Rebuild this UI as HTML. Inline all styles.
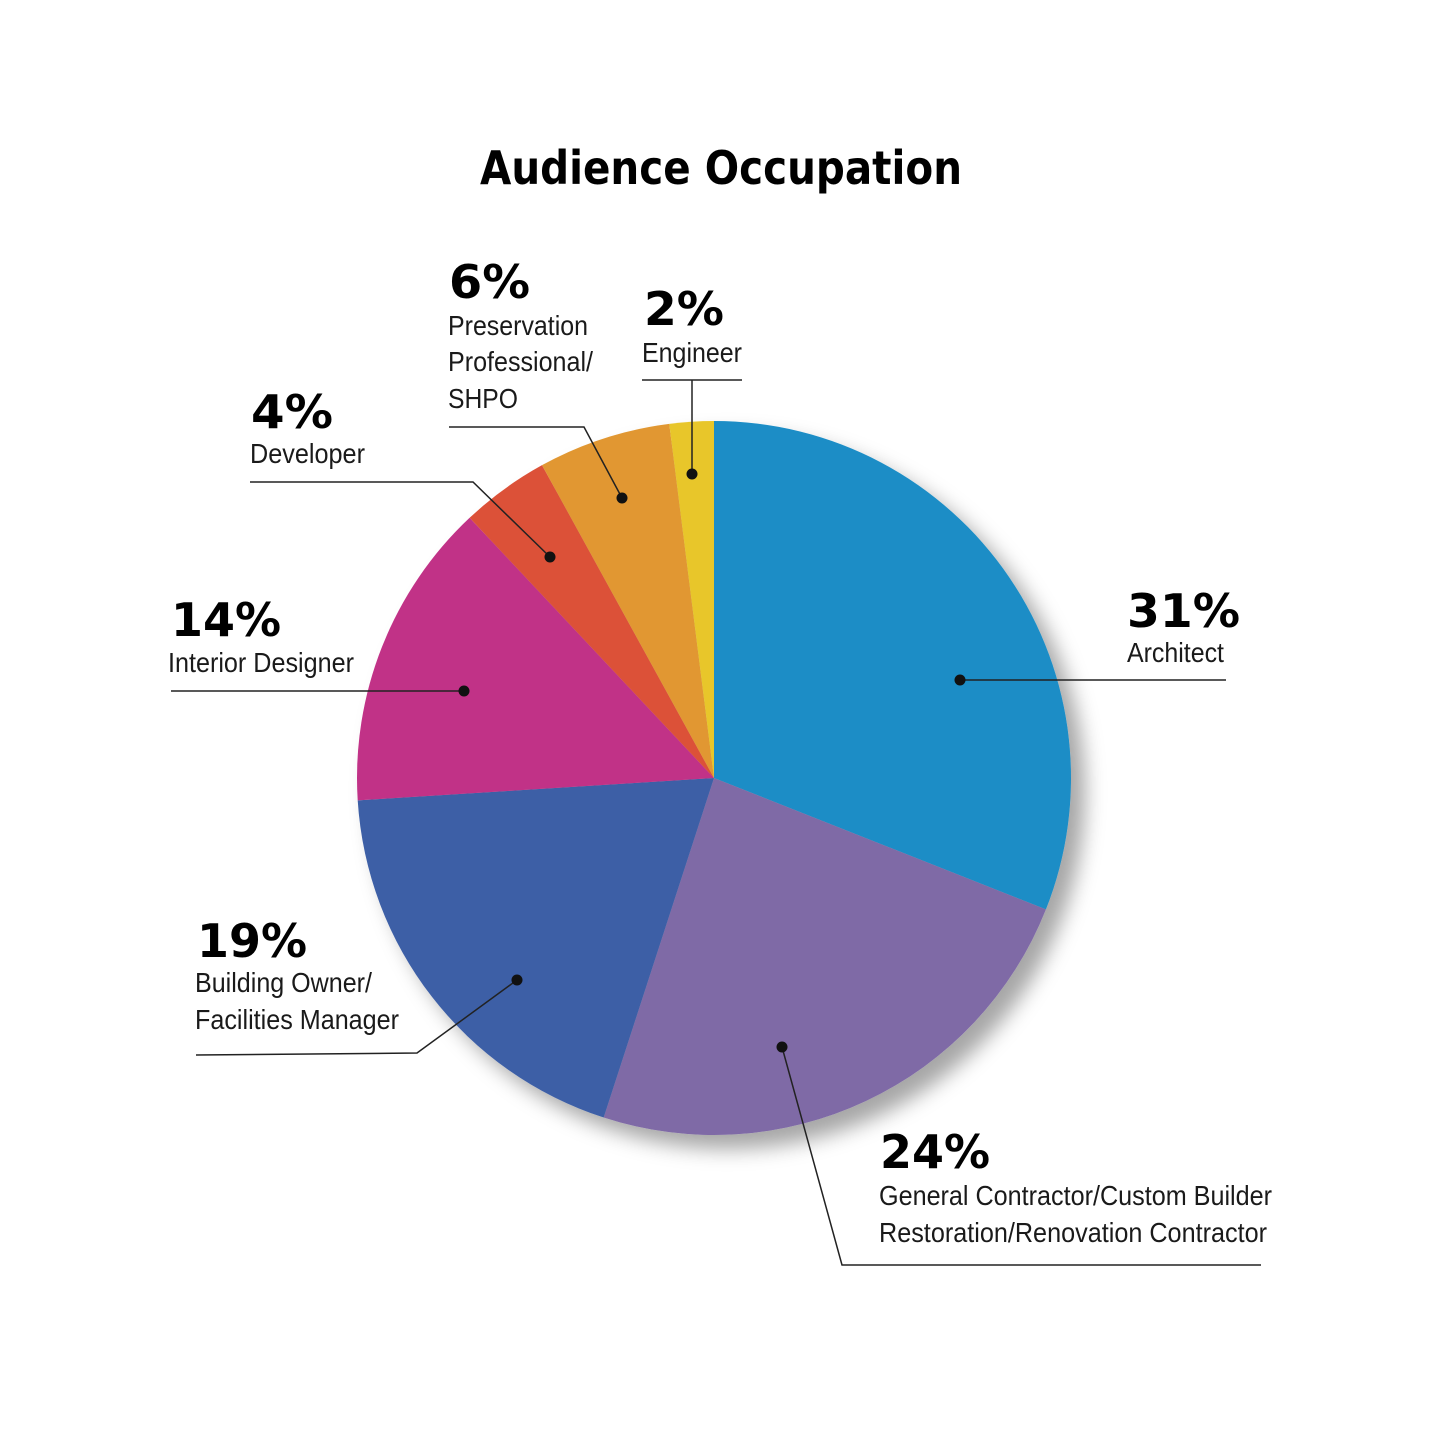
<!DOCTYPE html>
<html><head><meta charset="utf-8"><style>
html,body{margin:0;padding:0;background:#fff;}
svg{display:block;}
.pct{font-family:"DejaVu Sans","Liberation Sans",sans-serif;font-weight:bold;font-size:46px;fill:#000;}
.lbl{font-family:"Liberation Sans",sans-serif;font-size:28px;fill:#1a1a1a;}
.ld{stroke:#222;stroke-width:1.5;fill:none;}
</style></head><body>
<svg id="chart" width="1440" height="1440" viewBox="0 0 1440 1440" xmlns="http://www.w3.org/2000/svg">
<defs>
<filter id="sh" x="-20%" y="-20%" width="140%" height="140%">
<feDropShadow dx="14" dy="14" stdDeviation="10" flood-color="#000" flood-opacity="0.35"/>
</filter>
</defs>
<text x="480" y="184" textLength="482" lengthAdjust="spacingAndGlyphs" style="font-family:'DejaVu Sans','Liberation Sans',sans-serif;font-weight:bold;font-size:46px;">Audience Occupation</text>
<g id="slices" filter="url(#sh)"></g>
<g>
<polyline class="ld" points="960,680 1226,680"/>
<polyline class="ld" points="782,1047 842,1265 1261,1265"/>
<polyline class="ld" points="517,980 417,1053 196,1055"/>
<polyline class="ld" points="464,691 171,691"/>
<polyline class="ld" points="550,557 473,482 250,482"/>
<polyline class="ld" points="622,498 584,427 449,427"/>
<polyline class="ld" points="692,474 692,380"/>
<polyline class="ld" points="642,380 742,380"/>
<g fill="#111">
<circle cx="960" cy="680" r="5.5"/><circle cx="782" cy="1047" r="5.5"/><circle cx="517" cy="980" r="5.5"/><circle cx="464" cy="691" r="5.5"/><circle cx="550" cy="557" r="5.5"/><circle cx="622" cy="498" r="5.5"/><circle cx="692" cy="474" r="5.5"/>
</g>
<text class="pct" x="1127" y="627" textLength="113" lengthAdjust="spacingAndGlyphs">31%</text>
<text class="lbl" x="1127" y="662" textLength="97" lengthAdjust="spacingAndGlyphs">Architect</text>
<text class="pct" x="880" y="1168" textLength="110" lengthAdjust="spacingAndGlyphs">24%</text>
<text class="lbl" x="879" y="1205" textLength="393" lengthAdjust="spacingAndGlyphs">General Contractor/Custom Builder</text>
<text class="lbl" x="879" y="1242" textLength="388" lengthAdjust="spacingAndGlyphs">Restoration/Renovation Contractor</text>
<text class="pct" x="197" y="957" textLength="110" lengthAdjust="spacingAndGlyphs">19%</text>
<text class="lbl" x="195" y="992" textLength="177" lengthAdjust="spacingAndGlyphs">Building Owner/</text>
<text class="lbl" x="195" y="1029" textLength="204" lengthAdjust="spacingAndGlyphs">Facilities Manager</text>
<text class="pct" x="171" y="636" textLength="110" lengthAdjust="spacingAndGlyphs">14%</text>
<text class="lbl" x="168" y="672" textLength="186" lengthAdjust="spacingAndGlyphs">Interior Designer</text>
<text class="pct" x="251" y="428" textLength="82" lengthAdjust="spacingAndGlyphs">4%</text>
<text class="lbl" x="250" y="463" textLength="115" lengthAdjust="spacingAndGlyphs">Developer</text>
<text class="pct" x="449" y="298" textLength="81" lengthAdjust="spacingAndGlyphs">6%</text>
<text class="lbl" x="448" y="335" textLength="140" lengthAdjust="spacingAndGlyphs">Preservation</text>
<text class="lbl" x="448" y="371" textLength="145" lengthAdjust="spacingAndGlyphs">Professional/</text>
<text class="lbl" x="448" y="408" textLength="70" lengthAdjust="spacingAndGlyphs">SHPO</text>
<text class="pct" x="644" y="325" textLength="80" lengthAdjust="spacingAndGlyphs">2%</text>
<text class="lbl" x="642" y="362" textLength="100" lengthAdjust="spacingAndGlyphs">Engineer</text>
</g>
</svg>
<script>
const categories = ["Architect","General Contractor","Building Owner","Interior Designer","Developer","Preservation Professional","Engineer"];
const values = [31,24,19,14,4,6,2];
const colors = ["#1b8dc6","#7f6ba6","#3d5fa6","#c13387","#dc5137","#e19730","#e8c62c"];
const cx=714, cy=778, R=357;
const g=document.getElementById('slices');
const total=values.reduce((a,b)=>a+b,0);
function pt(a){return [cx+R*Math.sin(a), cy-R*Math.cos(a)];}
let acc=0;
values.forEach((v,i)=>{
  const a0=acc/total*2*Math.PI; acc+=v; const a1=acc/total*2*Math.PI;
  const p0=pt(a0), p1=pt(a1);
  const large=(a1-a0)>Math.PI?1:0;
  const p=document.createElementNS('http://www.w3.org/2000/svg','path');
  p.setAttribute('d',`M${cx},${cy} L${p0[0]},${p0[1]} A${R},${R} 0 ${large} 1 ${p1[0]},${p1[1]} Z`);
  p.setAttribute('fill',colors[i]);
  
  
  g.appendChild(p);
});
</script>
</body></html>
